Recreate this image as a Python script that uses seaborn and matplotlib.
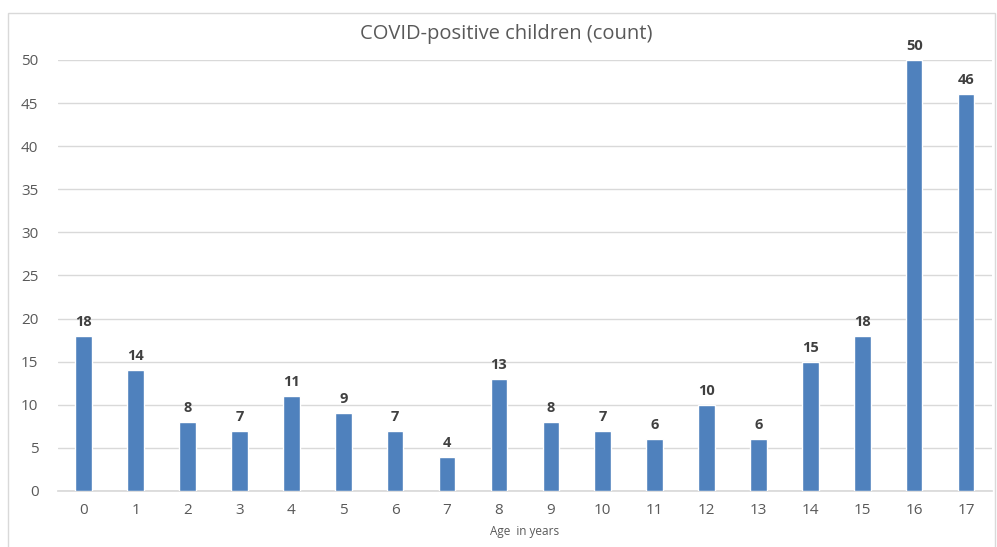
import matplotlib
matplotlib.use("Agg")
import matplotlib.pyplot as plt
import seaborn as sns
import pandas as pd
from matplotlib.patches import Rectangle

ages = [str(a) for a in range(18)]
counts = [18, 14, 8, 7, 11, 9, 7, 4, 13, 8, 7, 6, 10, 6, 15, 18, 50, 46]
y_ticks = list(range(0, 55, 5))

sns.set_theme(style="white")
plt.rcParams["font.family"] = ["Open Sans", "DejaVu Sans"]

df = pd.DataFrame({"age": ages, "count": counts})

fig = plt.figure(figsize=(9.97, 5.47), dpi=100)
ax = fig.add_axes([0.058, 0.1024, 0.937, 0.788])

sns.barplot(data=df, x="age", y="count", color="#4F81BD", saturation=1,
            width=0.32, ax=ax, zorder=3)

ax.set_ylim(0, 50)
ax.set_yticks(y_ticks)
ax.yaxis.grid(True, color="#D9D9D9", linewidth=1, zorder=0)
ax.set_axisbelow(True)
for s in ["top", "right", "left"]:
    ax.spines[s].set_visible(False)
ax.spines["bottom"].set_color("#D9D9D9")
ax.tick_params(axis="both", length=0, labelsize=11, colors="#595959", pad=9)
ax.tick_params(axis="y", pad=14)

ax.set_xlabel("Age  in years", fontsize=8.5, color="#595959", labelpad=5)
ax.set_ylabel("")

for i, v in enumerate(counts):
    ax.annotate(str(v), (i, v), xytext=(0, 5), textcoords="offset points",
                ha="center", va="bottom", fontsize=10.5, fontweight="bold",
                color="#404040", annotation_clip=False)

fig.text(0.508, 0.938, "COVID-positive children (count)", ha="center", va="center",
         fontsize=14.5, color="#595959")

# chart border
fig.patches.append(Rectangle((8 / 997, -0.05), 987 / 997, 1 - 13 / 547 + 0.05,
                             transform=fig.transFigure, fill=False,
                             edgecolor="#D9D9D9", linewidth=1))

fig.savefig("out.png", dpi=100, facecolor="white")
